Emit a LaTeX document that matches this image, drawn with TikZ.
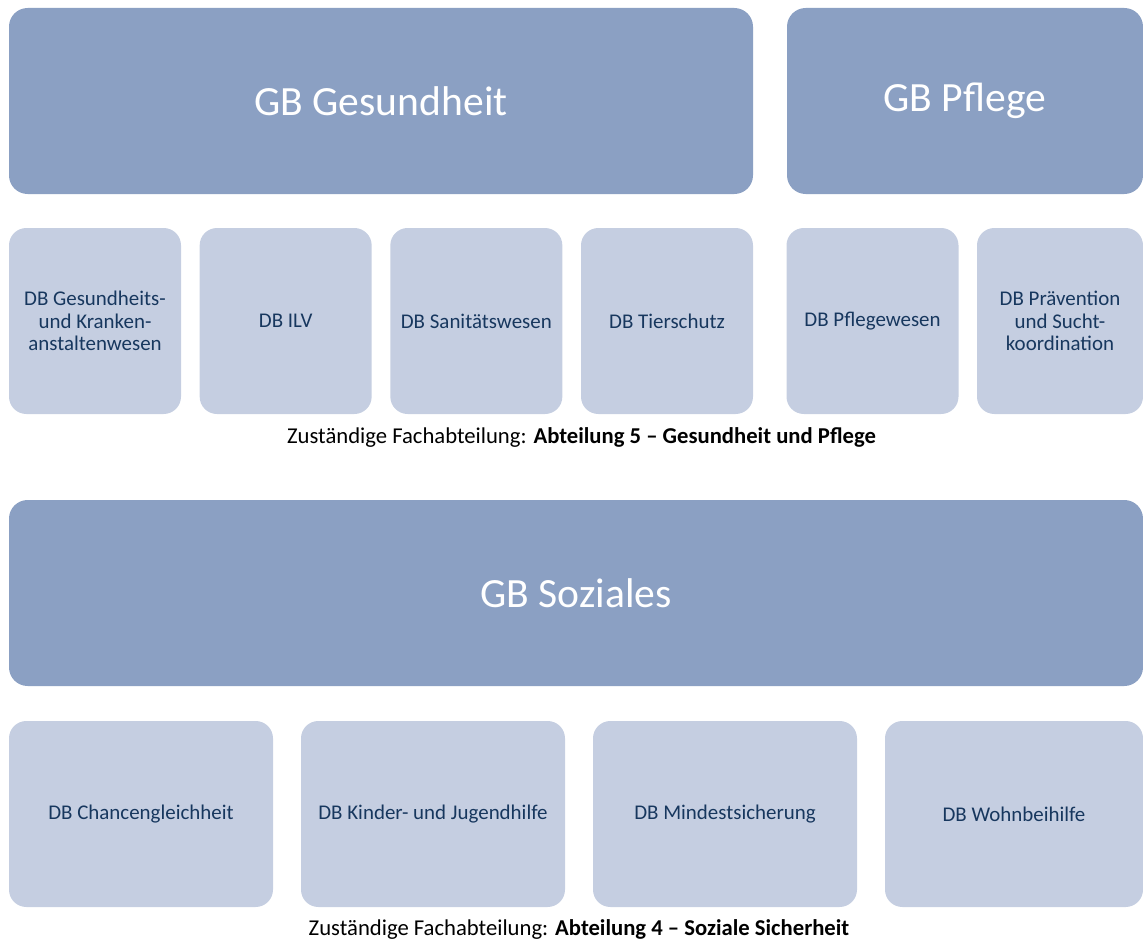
\documentclass[tikz,border=0pt]{standalone}
\usepackage{fontspec}
\setmainfont{Carlito}
\usepackage{xcolor}
\usetikzlibrary{positioning}
\definecolor{gbblue}{HTML}{8BA0C3}
\definecolor{dbblue}{HTML}{C5CEE1}
\definecolor{dbtext}{HTML}{17375E}

\begin{document}
\begin{tikzpicture}[x=0.75pt, y=-0.75pt, on grid,
	gb/.style={fill=gbblue, rounded corners=14pt, text=white, inner sep=0pt, minimum height=139.5pt, font=\fontsize{31.2}{36}\selectfont},
	db/.style={fill=dbblue, rounded corners=13pt, text=dbtext, align=center, inner sep=0pt, minimum width=129pt, minimum height=139.5pt, font=\fontsize{15.7}{17}\selectfont},
	dbwide/.style={db, minimum width=198pt},
	note/.style={font=\fontsize{17}{20}\selectfont}]
	\useasboundingbox (0,0) rectangle (1143,942);
	\clip (0,0) rectangle (1143,942);
	
	% Gesundheit und Pflege
	\node[gb, minimum width=558pt] (gesundheit) at (381,101) {GB Gesundheit};
	\node[gb, minimum width=267pt] (pflege) at (965,101) {GB Pflege};
	
	\node[db] (kranken) at (95,321) {DB Gesundheits-\\und Kranken-\\anstaltenwesen};
	\node[db, right=143pt of kranken] (ilv) {DB ILV};
	\node[db, right=143pt of ilv] (sanitaet) {DB Sanitätswesen};
	\node[db, right=143pt of sanitaet] (tierschutz) {DB Tierschutz};
	\node[db] (pflegewesen) at (872.5,321) {DB Pflegewesen};
	\node[db, minimum width=124.5pt] (praevention) at (1060,321) {DB Prävention\\und Sucht-\\koordination};
	
	\node[note] (abt5) at (581.5,437) {Zuständige Fachabteilung: \textbf{Abteilung 5 – Gesundheit und Pflege}};
	
	% Soziales
	\node[gb, minimum width=850.5pt] (soziales) at (576,593) {GB Soziales};
	
	\node[dbwide] (chancen) at (141,814) {DB Chancengleichheit};
	\node[dbwide, right=219pt of chancen] (jugend) {DB Kinder- und Jugendhilfe};
	\node[dbwide, right=219pt of jugend] (mindest) {DB Mindestsicherung};
	\node[dbwide, minimum width=193.5pt] (wohnbeihilfe) at (1014,814) {DB Wohnbeihilfe};
	
	\node[note] (abt4) at (579,929) {Zuständige Fachabteilung: \textbf{Abteilung 4 – Soziale Sicherheit}};
\end{tikzpicture}
\end{document}
